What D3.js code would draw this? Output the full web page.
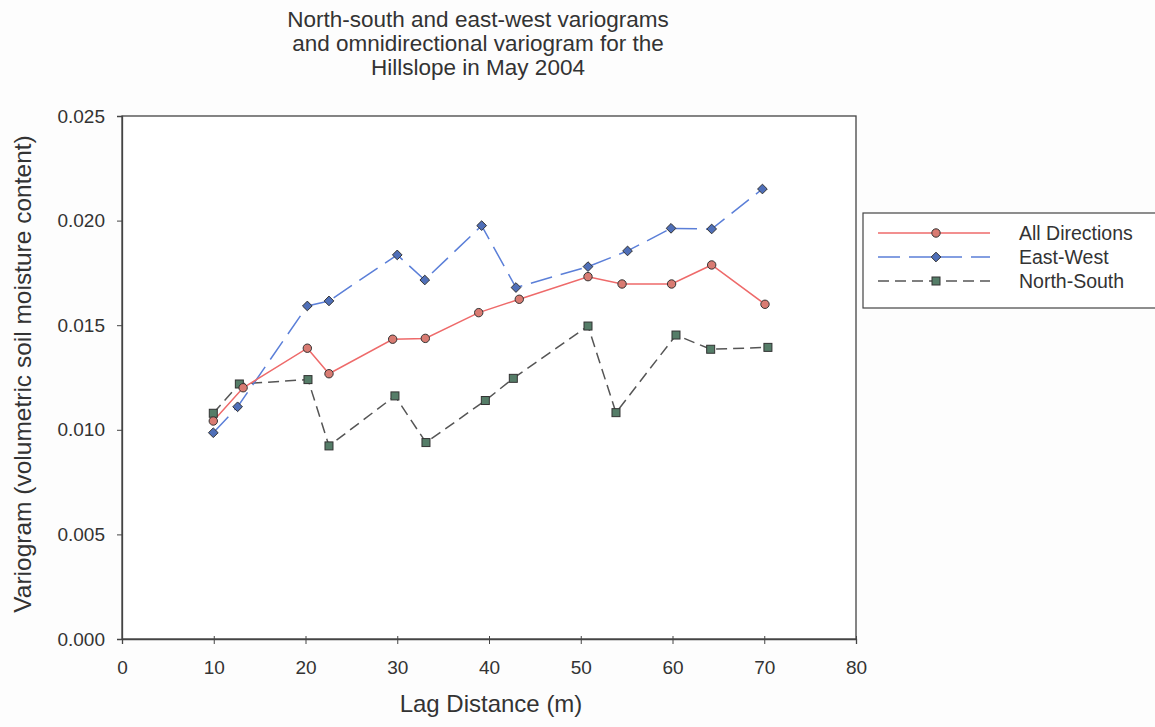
<!DOCTYPE html>
<html><head><meta charset="utf-8">
<script src="https://d3js.org/d3.v7.min.js"></script>
<style>body{margin:0;background:#fdfdfd;}svg{display:block;font-family:"Liberation Sans",Arial,sans-serif;}</style>
</head><body>
<script>
const titleLines = ["North-south and east-west variograms","and omnidirectional variogram for the","Hillslope in May 2004"];
const xLabel = "Lag Distance (m)";
const yLabel = "Variogram (volumetric soil moisture content)";
const xTicks = [0,10,20,30,40,50,60,70,80];
const yTicks = [0,0.005,0.010,0.015,0.020,0.025];

const allX = [9.95,13.2,20.2,22.56,29.5,33.06,38.88,43.3,50.79,54.5,59.9,64.27,70.08];
const allY = [0.01042,0.01201,0.01390,0.01268,0.01433,0.01437,0.01560,0.01624,0.01732,0.01697,0.01697,0.01788,0.01600];
const ewX = [9.95,12.6,20.2,22.56,30.0,33.0,39.2,42.94,50.79,55.1,59.84,64.27,69.8];
const ewY = [0.00986,0.01110,0.01592,0.01616,0.01836,0.01716,0.01976,0.01680,0.01780,0.01855,0.01963,0.01960,0.02151];
const nsX = [9.95,12.79,20.27,22.56,29.75,33.13,39.6,42.65,50.79,53.84,60.38,64.16,70.4];
const nsY = [0.01079,0.01219,0.01240,0.00923,0.01162,0.00939,0.01140,0.01246,0.01496,0.01082,0.01453,0.01385,0.01394];
const seriesNames = ["All Directions","East-West","North-South"];

const W = 1155, H = 727;
const m = {left:122, right:856, top:116, bottom:639};
const svg = d3.select("body").append("svg").attr("width",W).attr("height",H);

const x = d3.scaleLinear().domain([0,80]).range([m.left,m.right]);
const y = d3.scaleLinear().domain([0,0.025]).range([m.bottom,m.top]);

svg.append("rect").attr("x",m.left).attr("y",m.top).attr("width",m.right-m.left).attr("height",m.bottom-m.top)
  .attr("fill","#fff").attr("stroke","#444").attr("stroke-width",1.3);

svg.append("g").selectAll("text").data(titleLines).join("text")
  .attr("x",478).attr("y",(d,i)=>27+i*24).attr("text-anchor","middle")
  .attr("font-size",22.5).attr("fill","#333").text(d=>d);

const xAxis = svg.append("g").attr("transform",`translate(0,${m.bottom})`)
  .call(d3.axisBottom(x).tickValues(xTicks).tickFormat(d3.format("d")).tickSize(5).tickPadding(17));
const yAxis = svg.append("g").attr("transform",`translate(${m.left},0)`)
  .call(d3.axisLeft(y).tickValues(yTicks).tickFormat(d3.format(".3f")).tickSize(5).tickPadding(12));
[xAxis,yAxis].forEach(a=>{
  a.select(".domain").attr("stroke","#444").attr("stroke-width",1.3);
  a.selectAll(".tick line").attr("stroke","#444");
  a.selectAll("text").attr("font-size",19).attr("fill","#333").attr("font-family","Liberation Sans, Arial, sans-serif");
});
xAxis.selectAll(".tick").append("line").attr("y1",0).attr("y2",-3).attr("stroke","#444");

svg.append("text").attr("x",491).attr("y",712).attr("text-anchor","middle")
  .attr("font-size",24).attr("fill","#333").text(xLabel);
svg.append("text").attr("transform",`translate(31,374) rotate(-90)`).attr("text-anchor","middle")
  .attr("font-size",24.5).attr("fill","#333").text(yLabel);

const series = [
  {name:seriesNames[0], xs:allX, ys:allY, color:"#ee6a6a", dash:null, marker:"circle", fill:"#d97b72"},
  {name:seriesNames[1], xs:ewX, ys:ewY, color:"#5b7fd8", dash:"22,9", marker:"diamond", fill:"#4f6fb8"},
  {name:seriesNames[2], xs:nsX, ys:nsY, color:"#555", dash:"11,6", marker:"square", fill:"#557d68"}
];
const line = d3.line().x(d=>x(d[0])).y(d=>y(d[1]));

function drawMarker(g, type, cx, cy, fill){
  if(type==="circle") g.append("circle").attr("cx",cx).attr("cy",cy).attr("r",4.2);
  else if(type==="diamond") g.append("path").attr("d",d3.symbol(d3.symbolDiamond2,60)()).attr("transform",`translate(${cx},${cy})`);
  else g.append("rect").attr("x",cx-4).attr("y",cy-4).attr("width",8).attr("height",8);
  g.selectAll("*").attr("fill",fill).attr("stroke","#333").attr("stroke-width",1);
}

[series[2],series[1],series[0]].forEach(s=>{
  const pts = s.xs.map((v,i)=>[v,s.ys[i]]);
  svg.append("path").datum(pts).attr("d",line).attr("fill","none")
    .attr("stroke",s.color).attr("stroke-width",1.5).attr("stroke-dasharray",s.dash);
});
[series[2],series[1],series[0]].forEach(s=>{
  const g = svg.append("g");
  s.xs.forEach((v,i)=>drawMarker(g.append("g"), s.marker, x(v), y(s.ys[i]), s.fill));
});

const lg = svg.append("g");
lg.append("rect").attr("x",863).attr("y",213).attr("width",300).attr("height",95)
  .attr("fill","#fff").attr("stroke","#444").attr("stroke-width",1.2);
series.forEach((s,i)=>{
  const ly = 233 + i*24;
  lg.append("line").attr("x1",878).attr("x2",990).attr("y1",ly).attr("y2",ly)
    .attr("stroke",s.color).attr("stroke-width",1.5).attr("stroke-dasharray",s.dash);
  drawMarker(lg.append("g"), s.marker, 936, ly, s.fill);
  lg.append("text").attr("x",1019).attr("y",ly+7).attr("font-size",19.5).attr("fill","#333").text(s.name);
});
</script>
</body></html>
